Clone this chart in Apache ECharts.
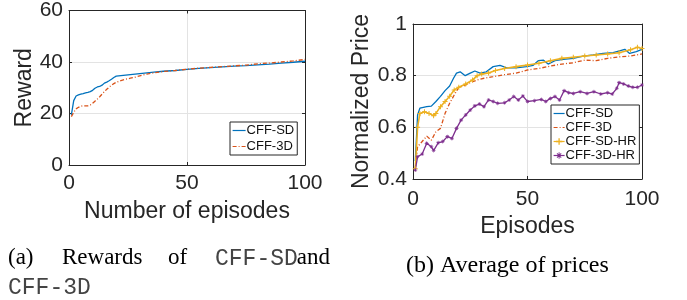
<!DOCTYPE html>
<html>
<head>
<meta charset="utf-8">
<script src="https://cdn.jsdelivr.net/npm/echarts@6/dist/echarts.min.js"></script>
<style>
  html, body { margin: 0; padding: 0; background: #fff; }
  #chart { width: 687px; height: 300px; }
</style>
</head>
<body>
<div id="chart"></div>
<script>
// Values, as [episode, value] pairs.
const rewardSD = [
  [1, 19.5], [2, 25], [3, 26.8], [4, 27.2], [5, 27.5], [6, 27.7], [7, 28], [8, 28.2],
  [9, 28.5], [10, 29], [11, 29.8], [12, 30.3], [13, 30.5], [14, 31], [15, 31.8],
  [16, 32.2], [17, 32.7], [18, 33.3], [19, 34], [20, 34.5], [22, 34.7], [24, 34.9],
  [26, 35.1], [28, 35.3], [30, 35.5], [33, 35.8], [36, 36.1], [40, 36.4], [45, 36.7],
  [50, 37.1], [55, 37.5], [60, 37.8], [65, 38.1], [70, 38.4], [75, 38.6], [80, 38.9],
  [85, 39.2], [90, 39.6], [95, 39.9], [100, 40.3],
];
const reward3D = [
  [1, 18.8], [2, 20.5], [3, 21.8], [4, 22.4], [5, 22.8], [6, 23], [7, 23], [8, 23],
  [9, 23.3], [10, 24], [11, 24.8], [12, 25.6], [13, 26.5], [14, 27.5], [15, 28.5],
  [16, 29.4], [17, 30.2], [18, 31], [19, 31.6], [20, 32.1], [22, 32.8], [24, 33.3],
  [26, 33.7], [28, 34.1], [30, 34.6], [33, 35.3], [36, 35.8], [40, 36.3], [45, 36.7],
  [50, 37.2], [55, 37.6], [60, 37.9], [65, 38.2], [70, 38.5], [75, 38.8], [80, 39.3],
  [85, 39.6], [90, 40], [95, 40.4], [100, 41],
];

const priceSD = [
  [1, 0.47], [2, 0.648], [3, 0.674], [6, 0.68], [8, 0.682], [10, 0.70], [12, 0.72],
  [14, 0.742], [16, 0.76], [17.7, 0.79], [19, 0.81], [20.6, 0.815], [22.8, 0.80],
  [25, 0.81], [27, 0.818], [29.3, 0.81], [32, 0.815], [35, 0.835], [38, 0.84],
  [41, 0.83], [45, 0.83], [49.6, 0.835], [52.5, 0.84], [54.7, 0.858], [57, 0.86],
  [59, 0.845], [62, 0.858], [65.6, 0.863], [70, 0.867], [74.3, 0.876], [78.7, 0.88],
  [83, 0.886], [87.4, 0.889], [92.5, 0.902], [94.6, 0.886], [97.5, 0.893], [100, 0.902],
];
const price3D = [
  [1, 0.44], [2, 0.525], [4, 0.545], [6, 0.566], [8, 0.55], [10, 0.583], [12, 0.596],
  [14, 0.654], [16, 0.693], [18, 0.725], [20, 0.755], [22, 0.76], [25, 0.773],
  [28, 0.783], [31, 0.79], [35, 0.796], [40, 0.804], [45, 0.81], [50, 0.822],
  [55, 0.828], [60, 0.837], [65, 0.845], [70, 0.85], [75, 0.86], [80, 0.858],
  [85, 0.867], [90, 0.873], [95, 0.876], [100, 0.884],
];
const priceSDHR = [
  [1, 0.44], [2, 0.60], [3, 0.654], [5, 0.66], [7, 0.654], [9, 0.645], [10, 0.654],
  [12, 0.68], [14, 0.70], [16, 0.72], [18, 0.745], [20, 0.755], [23, 0.768],
  [26, 0.783], [28, 0.80], [30, 0.806], [33, 0.81], [36, 0.82], [40, 0.828],
  [45, 0.835], [50, 0.841], [55, 0.848], [60, 0.858], [65, 0.867], [70, 0.871],
  [75, 0.876], [80, 0.88], [85, 0.884], [90, 0.889], [95, 0.90], [98, 0.91], [100, 0.905],
];
const price3DHR = [
  [1, 0.435], [2, 0.486], [4, 0.497], [6, 0.538], [8, 0.525], [9, 0.51], [11, 0.54],
  [13, 0.545], [15, 0.564], [17, 0.557], [19, 0.596], [21, 0.628], [23, 0.648],
  [25, 0.667], [27, 0.683], [29, 0.69], [31, 0.68], [33, 0.706], [35, 0.70],
  [37, 0.693], [40, 0.695], [42, 0.706], [44, 0.719], [46, 0.706], [48, 0.721],
  [50, 0.70], [53, 0.703], [56, 0.708], [58, 0.70], [60, 0.712], [62, 0.719],
  [64, 0.706], [66, 0.742], [68, 0.734], [70, 0.731], [73, 0.738], [76, 0.731],
  [79, 0.738], [82, 0.729], [85, 0.734], [87, 0.729], [89, 0.751], [90, 0.773],
  [92, 0.768], [94, 0.76], [96, 0.755], [98, 0.755], [100, 0.764],
];

const rewardTicks = { min: 0, max: 60, interval: 20 };
const priceTicks = { min: 0.4, max: 1, interval: 0.2 };
const episodeTicks = { min: 0, max: 100, interval: 50 };

// MATLAB's default line colours
const BLUE = "#0072BD";
const ORANGE = "#D95319";
const YELLOW = "#EDB120";
const PURPLE = "#7E2F8E";
const INK = "#262626";
const GRID = "#e3e3e3";
const SANS = "'Liberation Sans', Arial, sans-serif";
const SERIF = "23px 'Liberation Serif', serif";
const MONO = "23px 'Liberation Mono', monospace";

const PLUS = "path://M0,4H10V6H0Z M4,0H6V10H4Z";
const STAR = "path://M0,4.3H10V5.7H0Z M4.3,0H5.7V10H4.3Z M1.2,2.2L2.2,1.2L8.8,7.8L7.8,8.8Z M7.8,1.2L8.8,2.2L2.2,8.8L1.2,7.8Z";
const DASHDOT = [4, 2, 1, 2];

function mainX(gridIndex, name, gap, margin) {
  return {
    gridIndex, type: "value", ...episodeTicks,
    name, nameLocation: "middle", nameGap: gap,
    nameTextStyle: { color: INK, fontSize: 23, fontFamily: SANS },
    axisLine: { show: true, onZero: false, lineStyle: { color: INK, width: 1 } },
    axisTick: { show: true, inside: true, length: 3, lineStyle: { color: INK } },
    axisLabel: { color: INK, fontSize: 21, fontFamily: SANS, margin },
    splitLine: { show: true, lineStyle: { color: GRID, width: 1 } },
  };
}
function mainY(gridIndex, ticks, name, gap, fmt) {
  return {
    gridIndex, type: "value", ...ticks,
    name, nameLocation: "middle", nameGap: gap,
    nameTextStyle: { color: INK, fontSize: 23, fontFamily: SANS },
    axisLine: { show: true, onZero: false, lineStyle: { color: INK, width: 1 } },
    axisTick: { show: true, inside: true, length: 3, lineStyle: { color: INK } },
    axisLabel: { color: INK, fontSize: 21, fontFamily: SANS, margin: 6, formatter: fmt },
    splitLine: { show: true, lineStyle: { color: GRID, width: 1 } },
  };
}
// box edges on top / right, no labels
function edge(gridIndex, ticks, position) {
  return {
    gridIndex, type: "value", ...ticks, position,
    axisLine: { show: true, onZero: false, lineStyle: { color: INK, width: 1 } },
    axisTick: { show: true, inside: true, length: 3, lineStyle: { color: INK } },
    axisLabel: { show: false },
    splitLine: { show: false },
  };
}

function line(name, data, xi, yi, color, opts = {}) {
  return {
    name, type: "line", data, xAxisIndex: xi, yAxisIndex: yi,
    symbol: "none", animation: false, z: 3,
    lineStyle: { color, width: 1.3, ...(opts.lineStyle || {}) },
    itemStyle: { color },
    ...opts.extra,
  };
}

const legendBase = {
  orient: "vertical",
  backgroundColor: "#fff",
  borderColor: INK,
  borderWidth: 1,
  borderRadius: 0,
  itemGap: 3,
  itemHeight: 8,
  lineStyle: { width: 1.2 },
  textStyle: { color: "#111", fontSize: 13, fontFamily: SANS, padding: [0, 0, 0, -4] },
  selectedMode: false,
};
// plain line entries: keep the line, hide the legend's symbol
const lineOnly = (name) => ({ name, itemStyle: { opacity: 0 } });

const option = {
  backgroundColor: "#fff",
  animation: false,
  grid: [
    { left: 69, top: 10, width: 236, height: 155 },
    { left: 413, top: 24, width: 229, height: 155 },
  ],
  xAxis: [
    mainX(0, "Number of episodes", 35, 8),
    edge(0, episodeTicks, "top"),
    mainX(1, "Episodes", 33, 10),
    edge(1, episodeTicks, "top"),
  ],
  yAxis: [
    mainY(0, rewardTicks, "Reward", 33),
    edge(0, rewardTicks, "right"),
    mainY(1, priceTicks, "Normalized Price", 40, (v) => (v === 1 ? "1" : String(+v.toFixed(1)))),
    edge(1, priceTicks, "right"),
  ],
  legend: [
    {
      ...legendBase, left: 230, top: 122, itemWidth: 13, padding: [2, 3, 2, 2],
      data: [lineOnly("CFF-SD"), lineOnly("CFF-3D")],
    },
    {
      ...legendBase, left: 551, top: 105, itemWidth: 11, itemGap: 1, padding: [2, 3, 2, 2],
      data: [lineOnly("CFF-SD"), lineOnly("CFF-3D"), "CFF-SD-HR", "CFF-3D-HR"],
    },
  ],
  series: [
    line("CFF-SD", rewardSD, 0, 0, BLUE),
    line("CFF-3D", reward3D, 0, 0, ORANGE, { lineStyle: { type: DASHDOT } }),
    line("CFF-SD", priceSD, 2, 2, BLUE),
    line("CFF-3D", price3D, 2, 2, ORANGE, { lineStyle: { type: DASHDOT } }),
    line("CFF-SD-HR", priceSDHR, 2, 2, YELLOW, {
      lineStyle: { width: 1.6 },
      extra: { symbol: PLUS, symbolSize: 5, showSymbol: true },
    }),
    line("CFF-3D-HR", price3DHR, 2, 2, PURPLE, {
      lineStyle: { width: 1.3 },
      extra: { symbol: STAR, symbolSize: 4, showSymbol: true },
    }),
  ],
  graphic: [
    { type: "text", left: 8, top: 246, style: { text: "(a)", font: SERIF, fill: "#000" } },
    { type: "text", left: 62, top: 246, style: { text: "Rewards", font: SERIF, fill: "#000" } },
    { type: "text", left: 168, top: 246, style: { text: "of", font: SERIF, fill: "#000" } },
    { type: "text", left: 215, top: 247, style: { text: "CFF-SD", font: MONO, fill: "#444" } },
    { type: "text", right: 357, top: 246, style: { text: "and", font: SERIF, fill: "#000" } },
    { type: "text", left: 8, top: 276, style: { text: "CFF-3D", font: MONO, fill: "#444" } },
    { type: "text", left: 406, top: 254, style: { text: "(b) Average of prices", font: "24px 'Liberation Serif', serif", fill: "#000" } },
  ],
};

const chart = echarts.init(document.getElementById("chart"));
chart.setOption(option);
</script>
</body>
</html>
